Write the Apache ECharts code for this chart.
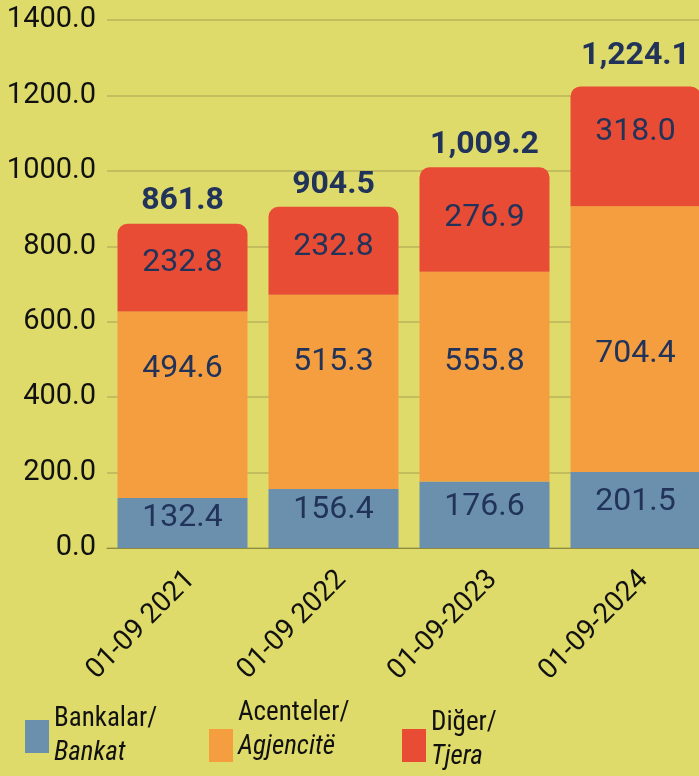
<!DOCTYPE html>
<html>
<head>
<meta charset="utf-8">
<script src="https://cdn.jsdelivr.net/npm/echarts@6/dist/echarts.min.js"></script>
<style>
html,body{margin:0;padding:0;background:#dedb6a;}
#main{width:699px;height:776px;}
</style>
</head>
<body>
<div id="main"></div>
<script>
// kategorite dhe vlerat
var categories = ['01-09 2021', '01-09 2022', '01-09-2023', '01-09-2024'];
var bankat = [132.4, 156.4, 176.6, 201.5];
var agjencite = [494.6, 515.3, 555.8, 704.4];
var tjera = [232.8, 232.8, 276.9, 318.0];
var totals = [861.8, 904.5, 1009.2, 1224.1];
var yTicks = [0, 200, 400, 600, 800, 1000, 1200, 1400];

// zhvendosja vertikale e etiketave (px), si ne origjinal
var bankatDy = [-5, -9, -8, -8];
var agjencDy = [-36, -30, -15, 15];
var tjeraDy = [-5, -4, -2, -14];
var totalDy = [0, 0, 0, -8];

var labelColor = '#22335a';
var legendFont = "'Liberation Sans Narrow', 'Roboto Condensed', Roboto";

var myChart = echarts.init(document.getElementById('main'));

function withLabels(values, dy) {
    return values.map(function (v, i) {
        return { value: v, label: { offset: [0, dy[i]] } };
    });
}

function segLabel() {
    return {
        show: true,
        position: 'inside',
        color: labelColor,
        fontFamily: 'Roboto',
        fontSize: 32,
        formatter: function (p) { return p.value.toFixed(1); }
    };
}

// legjenda: nje per seri, rreshti i trete bosh ul katrorin
function legendItem(name, l1, l2, left, top, extra) {
    var txt = '{a|' + l1 + '}\n{b|' + l2 + '}';
    if (extra > 0) txt += '\n{c| }';
    return {
        data: [name],
        left: left,
        top: top,
        padding: 0,
        orient: 'vertical',
        itemWidth: 24,
        itemHeight: 33,
        itemGap: 0,
        selectedMode: false,
        icon: 'rect',
        formatter: function () { return txt; },
        textStyle: {
            rich: {
                a: { fontFamily: legendFont, fontSize: 27, color: '#111', lineHeight: 34 },
                b: { fontFamily: legendFont, fontSize: 27, color: '#111', lineHeight: 34, fontStyle: 'italic' },
                c: { fontSize: 4, lineHeight: extra }
            }
        }
    };
}

var option = {
    backgroundColor: '#dedb6a',
    animation: false,
    grid: { left: 107, width: 604, top: 20, bottom: 228, outerBoundsMode: 'none', containLabel: false },
    legend: [
        legendItem('Bankalar/ Bankat', 'Bankalar/', 'Bankat', 25, 706, 0),
        legendItem('Acenteler/ Agjencitë', 'Acenteler/', 'Agjencitë', 209, 700, 30),
        legendItem('Diğer/ Tjera', 'Diğer/', 'Tjera', 402, 710, 10)
    ],
    xAxis: {
        type: 'category',
        data: categories,
        axisTick: { show: false },
        axisLine: { show: true, lineStyle: { color: '#8e8a3e', width: 1 } },
        axisLabel: {
            rotate: 45,
            margin: 36,
            padding: [0, -12, 0, 0],
            fontFamily: 'Roboto',
            fontSize: 28,
            color: '#111'
        }
    },
    yAxis: {
        type: 'value',
        min: yTicks[0],
        max: yTicks[yTicks.length - 1],
        interval: 200,
        axisLine: { show: false },
        axisTick: { show: false },
        splitLine: { lineStyle: { color: '#b8b45a', width: 1.5 } },
        axisLabel: {
            margin: 11,
            fontFamily: 'Roboto',
            fontSize: 29,
            color: '#111',
            formatter: function (v) { return v.toFixed(1); }
        }
    },
    series: [
        {
            name: 'Bankalar/ Bankat',
            type: 'bar',
            stack: 'total',
            barWidth: 130,
            itemStyle: { color: '#6a90ae' },
            label: segLabel(),
            data: withLabels(bankat, bankatDy)
        },
        {
            name: 'Acenteler/ Agjencitë',
            type: 'bar',
            stack: 'total',
            itemStyle: { color: '#f59e40' },
            label: segLabel(),
            data: withLabels(agjencite, agjencDy)
        },
        {
            name: 'Diğer/ Tjera',
            type: 'bar',
            stack: 'total',
            itemStyle: { color: '#e84c35', borderRadius: [10, 10, 0, 0] },
            label: segLabel(),
            data: withLabels(tjera, tjeraDy)
        },
        {
            // totali mbi shtylla
            name: 'Totali',
            type: 'scatter',
            symbolSize: 2,
            itemStyle: { color: 'rgba(0,0,0,0)', opacity: 1 },
            label: {
                show: true,
                position: 'top',
                distance: 5,
                color: labelColor,
                fontFamily: 'Roboto',
                fontWeight: 'bold',
                fontSize: 32,
                formatter: function (p) {
                    return p.value.toLocaleString('en-US', { minimumFractionDigits: 1, maximumFractionDigits: 1 });
                }
            },
            data: withLabels(totals, totalDy)
        }
    ]
};

myChart.setOption(option);
</script>
</body>
</html>
